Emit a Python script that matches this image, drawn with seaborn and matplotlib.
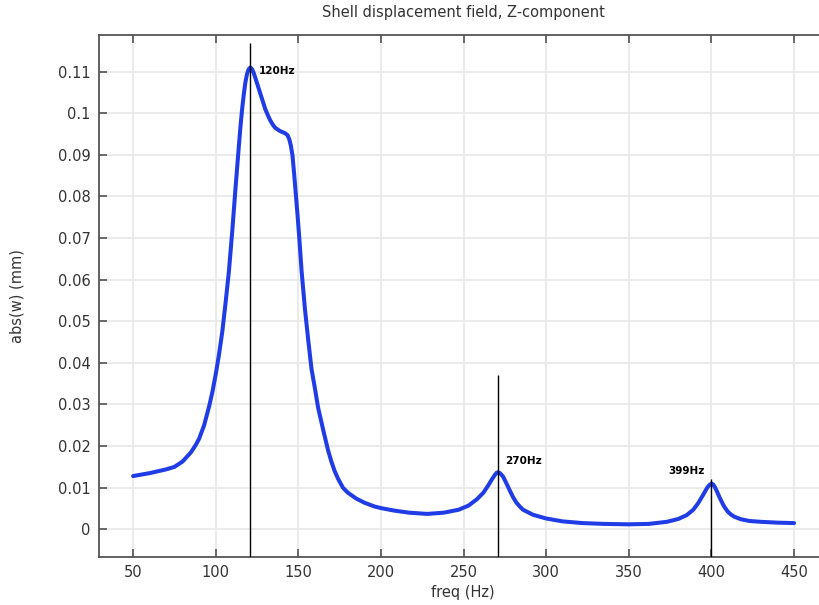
import matplotlib
matplotlib.use("Agg")
import matplotlib.pyplot as plt
import seaborn as sns
import pandas as pd

# Frequency response
freq = [50, 60, 70, 75, 80, 85, 88, 90, 93, 96, 98, 100, 102, 104, 106, 108, 110,
        112, 114, 115, 116, 117, 118, 119, 120, 121, 122, 123, 124, 126, 128, 130,
        131.5, 133, 134.5, 136, 139, 142, 143.5, 144.5, 145.5, 146.5, 147.5, 148.5,
        149.5, 150.5, 152, 154, 156, 158, 160, 162, 165, 168, 170, 172, 174, 177,
        180, 185, 190, 196, 200, 208, 217, 228, 238, 247, 253, 258, 262, 265, 267,
        269, 270, 271, 272, 273, 274, 276, 278, 280, 282, 284, 286, 292, 300, 310,
        322, 335, 350, 362, 373, 380, 385, 389, 392, 395, 397, 398, 399, 400, 401,
        402, 403, 404, 405, 407, 408, 410, 412, 414, 418, 423, 430, 440, 450]
amp = [0.0128, 0.0135, 0.0144, 0.0150, 0.0163, 0.0185, 0.0203, 0.0218, 0.0250,
       0.0295, 0.0330, 0.0372, 0.0420, 0.0475, 0.0545, 0.0620, 0.0715, 0.0820,
       0.0920, 0.0968, 0.1010, 0.1045, 0.1075, 0.1095, 0.1106, 0.1110, 0.1106,
       0.1097, 0.1085, 0.1060, 0.1035, 0.1010, 0.0996, 0.0983, 0.0973, 0.0965,
       0.0957, 0.0952, 0.0947, 0.0938, 0.0922, 0.0898, 0.0853, 0.0805, 0.0757,
       0.0705, 0.0620, 0.0530, 0.0455, 0.0385, 0.0340, 0.0292, 0.0240, 0.0190,
       0.0163, 0.0140, 0.0122, 0.0100, 0.0088, 0.0074, 0.0064, 0.0055, 0.0051,
       0.0045, 0.0040, 0.0037, 0.0040, 0.0047, 0.0057, 0.0072, 0.0088, 0.0106,
       0.0119, 0.0131, 0.0136, 0.0137, 0.0135, 0.0131, 0.0126, 0.0110, 0.0093,
       0.0077, 0.0064, 0.0055, 0.0047, 0.0035, 0.0026, 0.0019, 0.0015, 0.0013,
       0.0012, 0.0013, 0.0018, 0.0025, 0.0034, 0.0047, 0.0063, 0.0083, 0.0097,
       0.0103, 0.0107, 0.0110, 0.0108, 0.0102, 0.0094, 0.0085, 0.0076, 0.0060,
       0.0053, 0.0042, 0.0035, 0.0030, 0.0024, 0.0020, 0.0018, 0.0016, 0.0015]

# Peak markers
peak_freq = [121, 271, 400]
peak_top = [0.1168, 0.037, 0.012]
peak_label = ["120Hz", "270Hz", "399Hz"]
label_y = [0.1102, 0.0164, 0.0140]

x_ticks = [50, 100, 150, 200, 250, 300, 350, 400, 450]
y_ticks = [0, 0.01, 0.02, 0.03, 0.04, 0.05, 0.06, 0.07, 0.08, 0.09, 0.1, 0.11]
y_tick_labels = ["0", "0.01", "0.02", "0.03", "0.04", "0.05", "0.06", "0.07",
                 "0.08", "0.09", "0.1", "0.11"]

df = pd.DataFrame({"freq": freq, "amp": amp})

sns.set_style("white")
plt.rcParams["font.family"] = ["DejaVu Sans"]

txt = "#333333"
fig = plt.figure(figsize=(8.19, 6.05), dpi=100)
ax = fig.add_axes([0.1209, 0.0793, 0.889, 0.8628])

ymin, ymax = -0.00666, 0.1188
ax.set_xlim(29.4, 470)
ax.set_ylim(ymin, ymax)

ax.grid(True, color="#e8e8e8", linewidth=1.2)
ax.set_axisbelow(True)

sns.lineplot(data=df, x="freq", y="amp", ax=ax, color="#1f3ce6", linewidth=2.9,
             zorder=3)

ax.vlines(peak_freq, ymin, peak_top, colors="black", linewidth=1.0, zorder=4)

offsets = [(6, 0, "left"), (5, 0, "left"), (-5, 0, "right")]
for f, ly, lab, (dx, dy, ha) in zip(peak_freq, label_y, peak_label, offsets):
    ax.annotate(lab, xy=(f, ly), xytext=(dx, dy), textcoords="offset points",
                ha=ha, va="center", fontsize=7.5, fontweight="bold", color="black")

ax.set_xticks(x_ticks)
ax.set_yticks(y_ticks)
ax.set_yticklabels(y_tick_labels)
ax.tick_params(axis="both", direction="in", length=5.5, width=1.1, color="#444444",
               labelsize=10.5, labelcolor=txt, top=True, bottom=True, left=True,
               right=False, pad=6)

for side in ["left", "bottom", "top"]:
    ax.spines[side].set_color("#555555")
    ax.spines[side].set_linewidth(1.3)
ax.spines["right"].set_visible(False)

ax.set_title("Shell displacement field, Z-component", fontsize=10.5, color=txt, pad=13)
ax.set_xlabel("freq (Hz)", fontsize=10.5, color=txt, labelpad=3)
ax.set_ylabel("abs(w) (mm)", fontsize=10.5, color=txt, labelpad=24)

fig.savefig("out.png", dpi=100)
